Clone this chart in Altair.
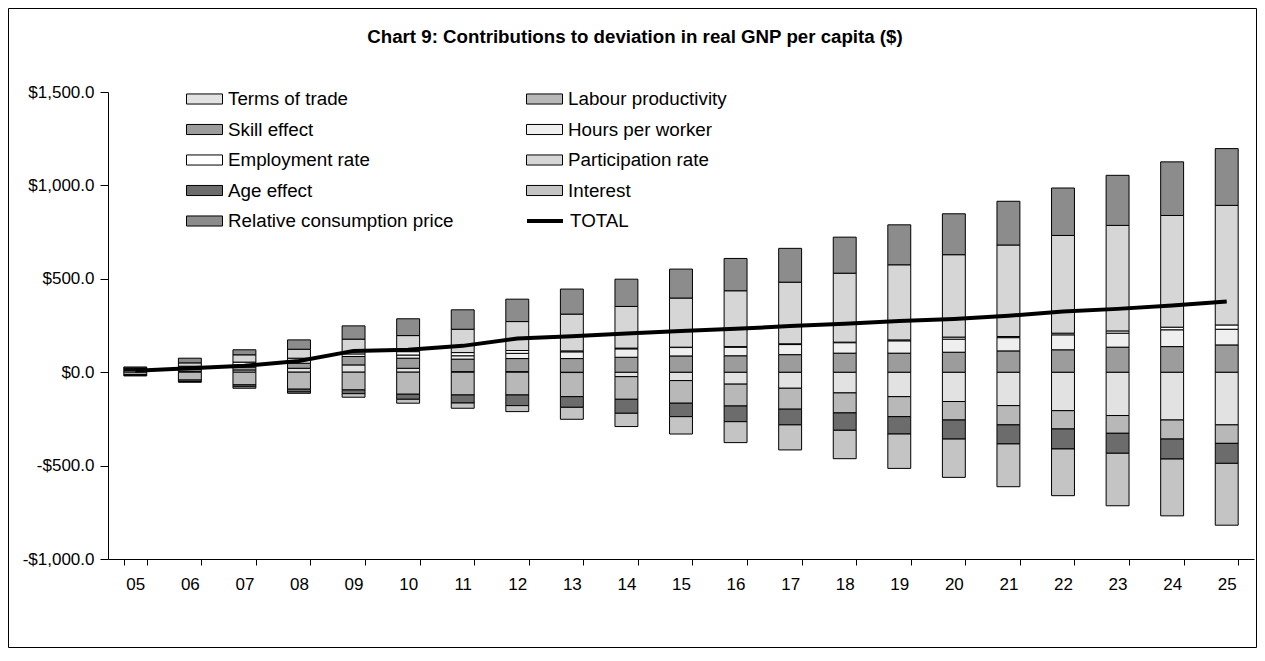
import altair as alt
import pandas as pd

years = ["05", "06", "07", "08", "09", "10", "11", "12", "13", "14", "15",
         "16", "17", "18", "19", "20", "21", "22", "23", "24", "25"]

series = ["Terms of trade", "Labour productivity", "Skill effect", "Hours per worker",
          "Employment rate", "Participation rate", "Age effect", "Interest",
          "Relative consumption price"]

terms_of_trade = [8, 5, 12, 21, 39, 21, 3, 3, -2, -24, -45, -64, -86, -111, -131, -157, -179, -206, -232, -256, -282]
labour_productivity = [-12, -42, -68, -91, -95, -118, -122, -122, -129, -121, -121, -117, -112, -107, -107, -99, -103, -98, -95, -102, -99]
skill_effect = [4, 12, 15, 27, 45, 54, 67, 70, 73, 80, 87, 88, 94, 102, 102, 107, 114, 120, 134, 137, 146]
hours_per_worker = [3, 5, 12, 15, 14, 17, 18, 28, 36, 45, 45, 46, 54, 56, 66, 70, 71, 80, 75, 90, 84]
employment_rate = [4, 10, 15, 12, 12, 18, 17, 15, 5, 4, 2, 3, 4, 3, 5, 11, 6, 9, 12, 14, 23]
participation_rate = [4, 18, 39, 48, 67, 86, 125, 155, 197, 223, 263, 299, 330, 369, 402, 441, 490, 523, 565, 598, 640]
age_effect = [-5, -8, -10, -15, -20, -27, -43, -57, -57, -75, -72, -84, -84, -93, -93, -102, -102, -107, -107, -107, -107]
interest = [-3, -4, -8, -7, -19, -21, -28, -32, -64, -71, -93, -112, -134, -152, -184, -205, -229, -250, -281, -304, -331]
relative_consumption_price = [5, 25, 27, 50, 71, 90, 104, 120, 134, 146, 155, 173, 181, 193, 214, 219, 234, 254, 268, 287, 304]
total = [8, 21, 34, 60, 114, 120, 141, 180, 193, 207, 221, 232, 247, 260, 274, 285, 302, 325, 339, 357, 378]

fills = ["#e2e2e2", "#b8b8b8", "#9c9c9c", "#efefef", "#ffffff",
         "#d6d6d6", "#6c6c6c", "#c4c4c4", "#8c8c8c"]

values = [terms_of_trade, labour_productivity, skill_effect, hours_per_worker,
          employment_rate, participation_rate, age_effect, interest,
          relative_consumption_price]

rows = []
for k, (name, vals) in enumerate(zip(series, values)):
    for yr, v in zip(years, vals):
        rows.append({"year": yr, "series": name, "order": k, "value": v})
df = pd.DataFrame(rows)
tot_df = pd.DataFrame({"year": years, "value": total, "label": ["TOTAL"] * len(years)})

FONT = "Liberation Sans"
W, H = 1146, 467

x_enc = alt.X("year:N", sort=years,
              scale=alt.Scale(paddingInner=0.58, paddingOuter=0.29),
              axis=alt.Axis(title=None, labelAngle=0, tickBand="extent", tickSize=6,
                            domainColor="black", tickColor="black", labelFontSize=17,
                            labelFont=FONT, labelColor="black", labelPadding=11))

y_scale = alt.Scale(domain=[-1000, 1500], nice=False)
y_axis = alt.Axis(title=None, values=[-1000, -500, 0, 500, 1000, 1500], grid=False,
                  tickSize=8, domainColor="black", tickColor="black",
                  labelFontSize=17, labelFont=FONT, labelColor="black", labelPadding=6,
                  labelExpr="(datum.value < 0 ? '-' : '') + '$' + format(abs(datum.value), ',.1f')")

bars = alt.Chart(df).mark_bar(stroke="black", strokeWidth=1).encode(
    x=x_enc,
    y=alt.Y("value:Q", stack="zero", scale=y_scale, axis=y_axis),
    fill=alt.Fill("series:N", scale=alt.Scale(domain=series, range=fills),
                  legend=alt.Legend(title=None, orient="none", legendX=78, legendY=-3,
                                    direction="horizontal", columns=2, columnPadding=72,
                                    rowPadding=10.5, clipHeight=20,
                                    symbolType="M-1,-0.28L1,-0.28L1,0.28L-1,0.28Z",
                                    symbolSize=1296, symbolStrokeColor="black",
                                    symbolStrokeWidth=1, labelFontSize=18.8,
                                    labelFont=FONT, labelColor="black", labelOffset=5,
                                    labelLimit=400, padding=0)),
    order=alt.Order("order:Q", sort="ascending"),
)

line = alt.Chart(tot_df).mark_line(strokeWidth=4).encode(
    x=alt.X("year:N", sort=years),
    y=alt.Y("value:Q", scale=y_scale, axis=y_axis),
    stroke=alt.Stroke("label:N", scale=alt.Scale(domain=["TOTAL"], range=["black"]),
                      legend=alt.Legend(title=None, orient="none", legendX=417, legendY=119,
                                        symbolType="stroke", symbolSize=1296,
                                        symbolStrokeWidth=4, clipHeight=20,
                                        labelFontSize=18.8, labelFont=FONT,
                                        labelColor="black", labelOffset=5, padding=0)),
)

border = alt.Chart(pd.DataFrame({"a": [0]})).mark_rect(
    fill="transparent", stroke="black", strokeWidth=1
).encode(x=alt.value(-99.5), x2=alt.value(W + 2.5), y=alt.value(-83.5), y2=alt.value(H + 88.5))

chart = alt.layer(border, bars, line).properties(
    width=W, height=H,
    title=alt.TitleParams("Chart 9: Contributions to deviation in real GNP per capita ($)",
                          font=FONT, fontSize=18.7, fontWeight="bold", color="black",
                          anchor="middle", offset=-39, dx=-46),
    autosize=alt.AutoSizeParams(type="none"),
    padding={"left": 100, "top": 84, "right": 3, "bottom": 89},
    background="white",
).configure_view(stroke=None)

chart.save("out.html", embed_options={"renderer": "svg", "actions": False})
